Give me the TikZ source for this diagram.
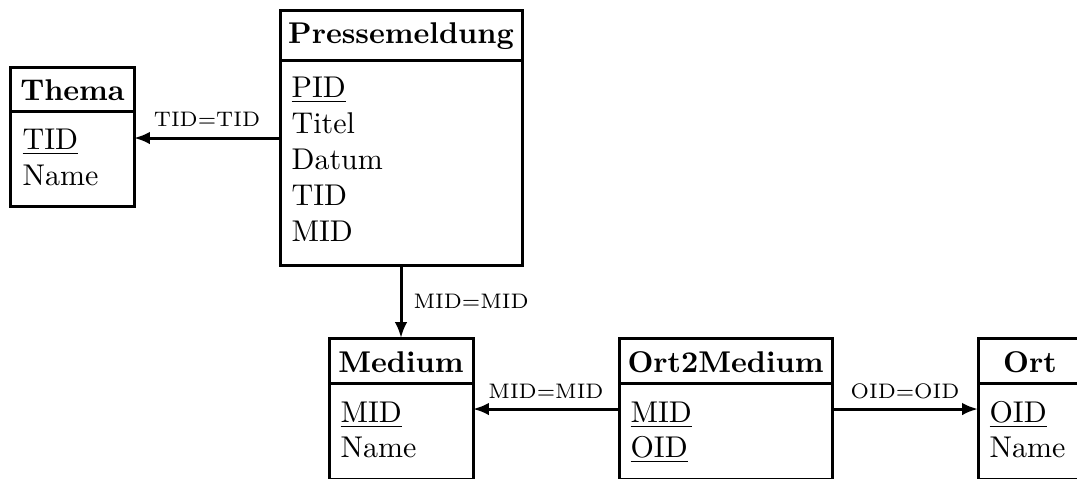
\documentclass[tikz,border=0pt]{standalone}
\usetikzlibrary{arrows.meta}
\begin{document}
\begin{tikzpicture}[x=0.33333pt,y=-0.33333pt,
  box/.style={draw,line width=1pt,inner sep=0pt,outer sep=0pt,fill=white},
  row/.style={anchor=base west,inner sep=0pt},
  hd/.style={anchor=base,inner sep=0pt,font=\bfseries},
  rel/.style={line width=1pt,-{Latex[length=5.3pt,width=4.2pt]}},
  lbl/.style={anchor=base,inner sep=0pt,font=\scriptsize}]
\useasboundingbox (0,0) rectangle (1077,478);
\clip (0,0) rectangle (1077,478);
% Thema
\node[box,minimum width=41pt,minimum height=14.667pt] (thema-h) at (72.5,89) {};
\node[box,minimum width=41pt,minimum height=31.667pt] (thema) at (72.5,158.5) {};
\node[hd] (thema-t) at (72.5,100) {Thema};
\node[row] (thema-1) at (22,149) {\underline{TID}};
\node[row] (thema-2) at (22,185) {Name};
% Pressemeldung
\node[box,minimum width=80.667pt,minimum height=16.667pt] (presse-h) at (401,35) {};
\node[box,minimum width=80.667pt,minimum height=68.333pt] (presse) at (401,162.5) {};
\node[hd] (presse-t) at (401,43) {Pressemeldung};
\node[row] (presse-1) at (291,97) {\underline{PID}};
\node[row] (presse-2) at (291,133) {Titel};
\node[row] (presse-3) at (291,169) {Datum};
\node[row] (presse-4) at (291,205) {TID};
\node[row] (presse-5) at (291,241) {MID};
% Medium
\node[box,minimum width=48pt,minimum height=15pt] (medium-h) at (401,360.5) {};
\node[box,minimum width=48pt,minimum height=32pt] (medium) at (401,431) {};
\node[hd] (medium-t) at (401,372) {Medium};
\node[row] (medium-1) at (340,422) {\underline{MID}};
\node[row] (medium-2) at (340,457) {Name};
% Ort2Medium
\node[box,minimum width=71pt,minimum height=15pt] (o2m-h) at (725.5,360.5) {};
\node[box,minimum width=71pt,minimum height=32pt] (o2m) at (725.5,431) {};
\node[hd] (o2m-t) at (725.5,372) {Ort2Medium};
\node[row] (o2m-1) at (630,422) {\underline{MID}};
\node[row] (o2m-2) at (630,457) {\underline{OID}};
% Ort
\node[box,minimum width=34.667pt,minimum height=15pt] (ort-h) at (1030,360.5) {};
\node[box,minimum width=34.667pt,minimum height=32pt] (ort) at (1030,431) {};
\node[hd] (ort-t) at (1030,372) {Ort};
\node[row] (ort-1) at (989,422) {\underline{OID}};
\node[row] (ort-2) at (989,457) {Name};
% connectors
\draw[rel] (presse.west |- 0,138) -- (thema.east |- 0,138);
\node[lbl] (l-tid) at (207,126) {TID=TID};
\draw[rel] (presse.south) -- (medium-h.north);
\node[lbl,anchor=base west] (l-mid1) at (413,308) {MID=MID};
\draw[rel] (o2m.west |- 0,409) -- (medium.east |- 0,409);
\node[lbl] (l-mid2) at (546,398) {MID=MID};
\draw[rel] (o2m.east |- 0,409) -- (ort.west |- 0,409);
\node[lbl] (l-oid) at (905,398) {OID=OID};
\end{tikzpicture}
\end{document}
